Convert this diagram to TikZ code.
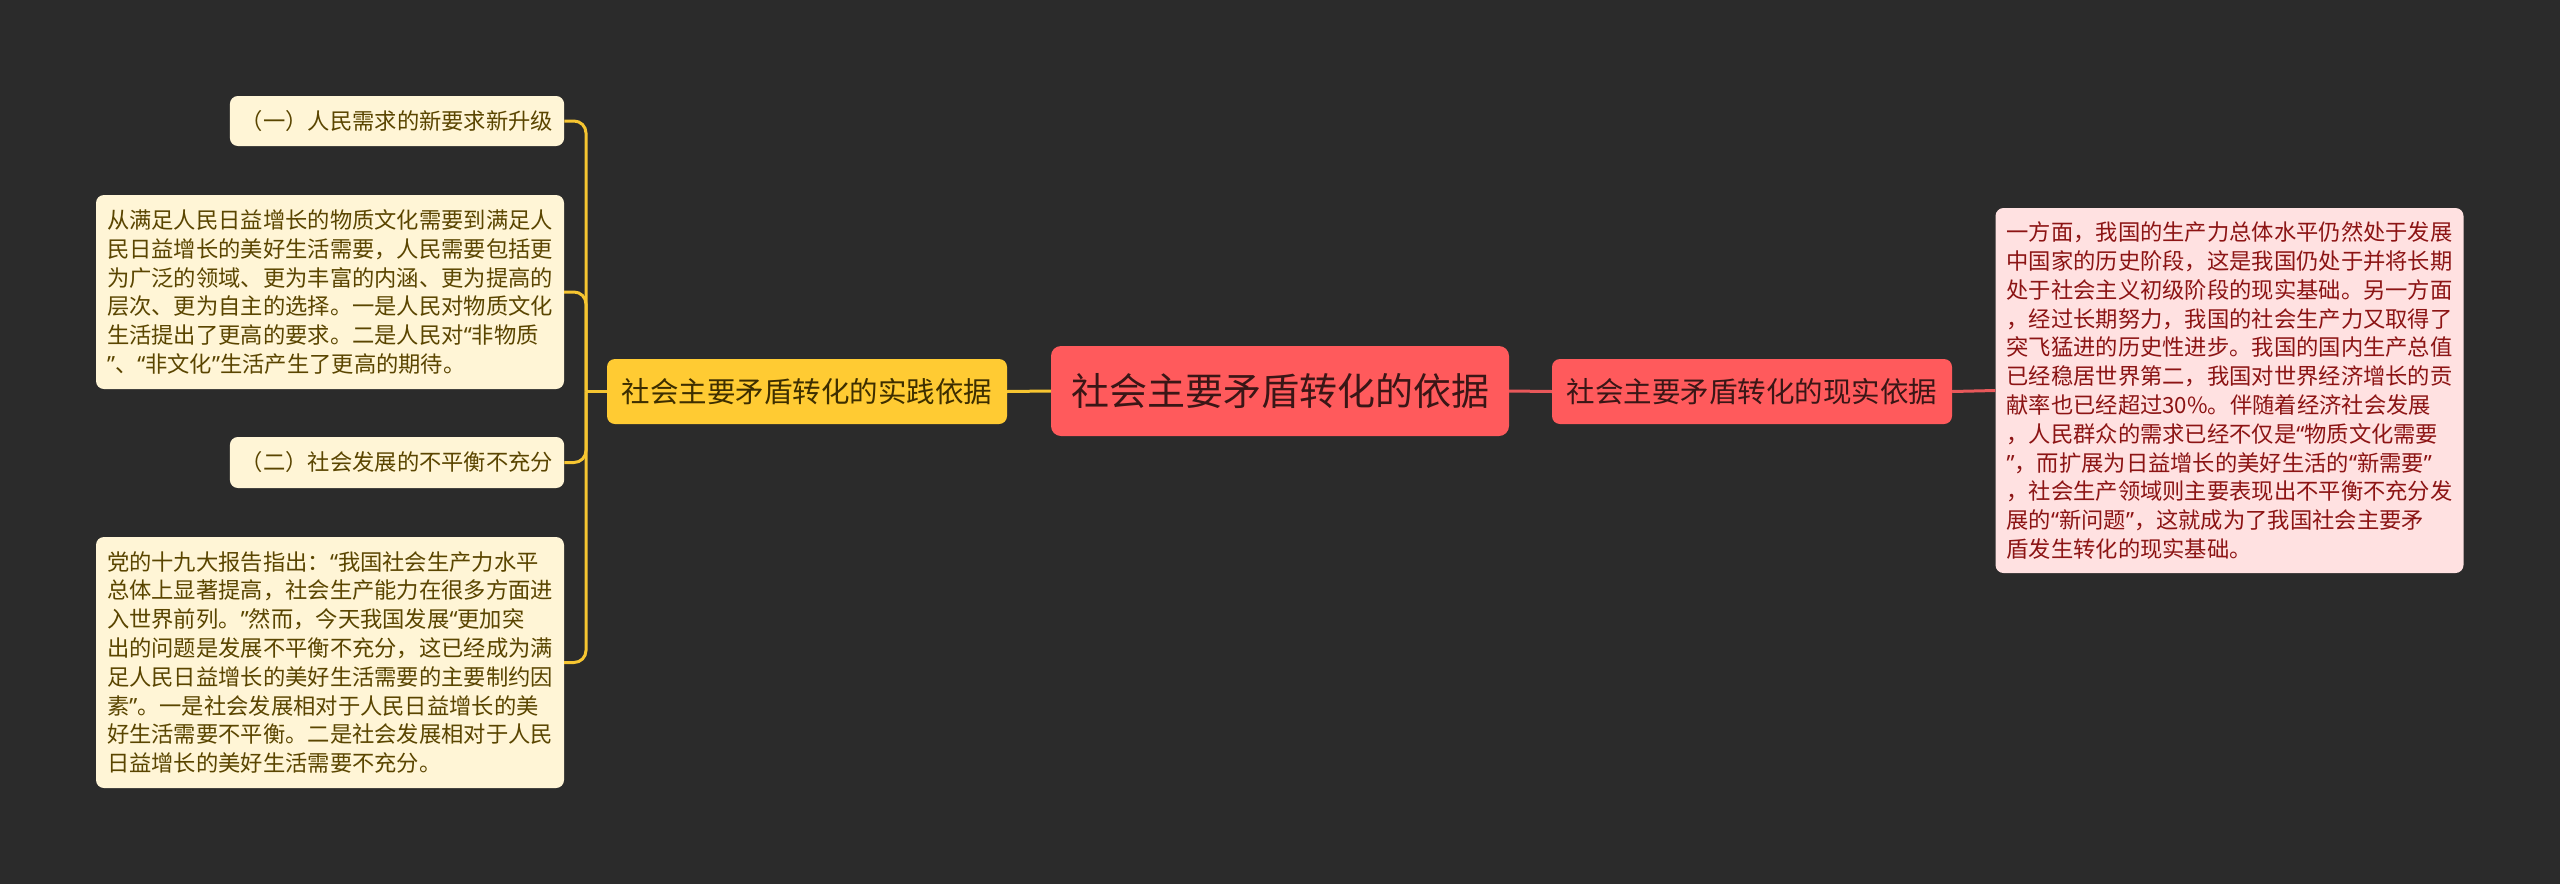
\documentclass[tikz,border=0pt]{standalone}
\usepackage{fontspec}
\newfontfamily\cjk{Noto Sans CJK SC}
\newfontfamily\qfont{Noto Sans}
\newcommand\qo{{\qfont “}}
\newcommand\qc{{\qfont ”}}
\definecolor{bgc}{HTML}{2B2B2B}
\definecolor{rootfill}{HTML}{FF5A5C}
\definecolor{roottext}{HTML}{3A1616}
\definecolor{rleaffill}{HTML}{FFE1E1}
\definecolor{rleaftext}{HTML}{8C1414}
\definecolor{rlinec}{HTML}{E8585A}
\definecolor{ybranchfill}{HTML}{FFCB33}
\definecolor{ybranchtext}{HTML}{3D2E00}
\definecolor{yleaffill}{HTML}{FFF5D6}
\definecolor{yleaftext}{HTML}{5A4500}
\definecolor{ylinec}{HTML}{F6C531}
\tikzset{
  box/.style={rounded corners=8pt, inner xsep=11pt, inner ysep=0pt, font=\cjk},
  rootbox/.style={box, fill=rootfill, text=roottext, font=\cjk\fontsize{38}{44}\selectfont, rounded corners=10pt},
  rbranch/.style={box, fill=rootfill, text=roottext, font=\cjk\fontsize{28.5}{34}\selectfont},
  ybranch/.style={box, fill=ybranchfill, text=ybranchtext, font=\cjk\fontsize{28.5}{34}\selectfont},
  yleaf/.style={box, fill=yleaffill, text=yleaftext, font=\cjk\fontsize{22.3}{28.8}\selectfont},
  rleaf/.style={box, fill=rleaffill, text=rleaftext, font=\cjk\fontsize{22.3}{28.8}\selectfont},
  para/.style={text width=446pt, align=left},
  yline/.style={draw=ylinec, line width=3pt},
  rline/.style={draw=rlinec, line width=3pt},
}
\begin{document}
\begin{tikzpicture}[x=1pt,y=-1pt]
\fill[bgc] (0,0) rectangle (2560,884);
\useasboundingbox (0,0) rectangle (2560,884);

\coordinate (tk) at (586,391.5);

\node[rootbox, minimum width=458pt, minimum height=90pt] (root) at (1280,391) {社会主要矛盾转化的依据};
\node[ybranch, minimum width=400pt, minimum height=65pt] (lb) at (807,391.5) {社会主要矛盾转化的实践依据};
\node[rbranch, minimum width=400pt, minimum height=65pt] (rb) at (1752,391.5) {社会主要矛盾转化的现实依据};

\node[rleaf, para, minimum height=365pt] (rl) at (2229.5,390.5) {一方面，我国的生产力总体水平仍然处于发展\\中国家的历史阶段，这是我国仍处于并将长期\\处于社会主义初级阶段的现实基础。另一方面\\，经过长期努力，我国的社会生产力又取得了\\突飞猛进的历史性进步。我国的国内生产总值\\已经稳居世界第二，我国对世界经济增长的贡\\献率也已经超过30\%。伴随着经济社会发展\\，人民群众的需求已经不仅是\qo 物质文化需要\\\qc，而扩展为日益增长的美好生活的\qo 新需要\qc\\，社会生产领域则主要表现出不平衡不充分发\\展的\qo 新问题\qc，这就成为了我国社会主要矛\\盾发生转化的现实基础。};

\node[yleaf, minimum width=334pt, minimum height=50pt] (l1) at (397,121) {（一）人民需求的新要求新升级};
\node[yleaf, para, minimum height=194pt] (l2) at (330,292) {从满足人民日益增长的物质文化需要到满足人\\民日益增长的美好生活需要，人民需要包括更\\为广泛的领域、更为丰富的内涵、更为提高的\\层次、更为自主的选择。一是人民对物质文化\\生活提出了更高的要求。二是人民对\qo 非物质\\\qc、\qo 非文化\qc 生活产生了更高的期待。};
\node[yleaf, minimum width=334pt, minimum height=51pt] (l3) at (397,462.5) {（二）社会发展的不平衡不充分};
\node[yleaf, para, minimum height=251pt] (l4) at (330,662.5) {党的十九大报告指出：\qo 我国社会生产力水平\\总体上显著提高，社会生产能力在很多方面进\\入世界前列。\qc 然而，今天我国发展\qo 更加突\\出的问题是发展不平衡不充分，这已经成为满\\足人民日益增长的美好生活需要的主要制约因\\素\qc。一是社会发展相对于人民日益增长的美\\好生活需要不平衡。二是社会发展相对于人民\\日益增长的美好生活需要不充分。};

\draw[rline] (root.east) -- (rb.west);
\draw[rline] (rb.east) -- (rl.west);
\draw[yline] (root.west) -- (lb.east);
\draw[yline] (lb.west) -- (tk);
\draw[yline, rounded corners=12pt] (tk) |- (l1.east);
\draw[yline, rounded corners=12pt] (tk) |- (l2.east);
\draw[yline, rounded corners=12pt] (tk) |- (l3.east);
\draw[yline, rounded corners=12pt] (tk) |- (l4.east);
\end{tikzpicture}
\end{document}
